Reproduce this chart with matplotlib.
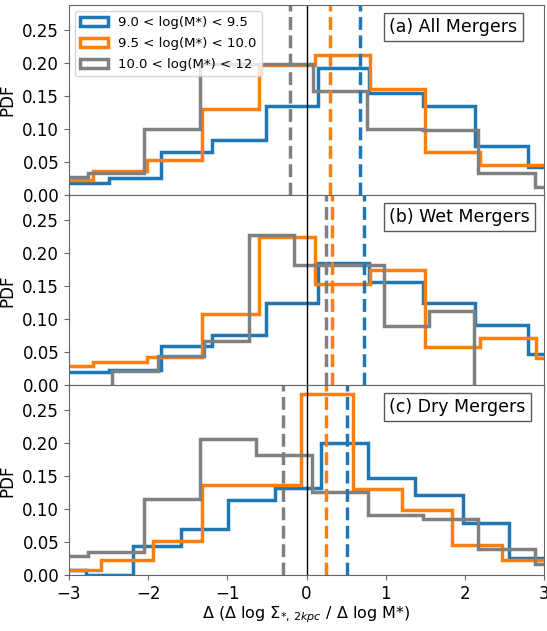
import matplotlib
matplotlib.use("Agg")
import matplotlib.pyplot as plt
from matplotlib.patches import Patch

labels = ["9.0 < log(M*) < 9.5", "9.5 < log(M*) < 10.0", "10.0 < log(M*) < 12"]
colors = ["#1f77b4", "#ff7f0e", "grey"]
panel_titles = ["(a) All Mergers", "(b) Wet Mergers", "(c) Dry Mergers"]

# (a) All mergers
a_blue_edges = [-3.16, -2.50, -1.84, -1.19, -0.51, 0.14, 0.79, 1.47, 2.13, 2.79, 3.45]
a_blue_vals = [0.018, 0.026, 0.066, 0.083, 0.135, 0.193, 0.155, 0.135, 0.075, 0.043]
a_orange_edges = [-3.40, -2.70, -2.02, -1.32, -0.60, 0.10, 0.80, 1.49, 2.19, 2.90, 3.60]
a_orange_vals = [0.023, 0.036, 0.053, 0.130, 0.197, 0.212, 0.161, 0.066, 0.046, 0.046]
a_grey_edges = [-3.47, -2.76, -2.05, -1.35, -0.62, 0.08, 0.76, 1.47, 2.16, 2.88, 3.60]
a_grey_vals = [0.028, 0.033, 0.101, 0.198, 0.198, 0.158, 0.100, 0.098, 0.034, 0.013]
a_medians = [0.68, 0.29, -0.21]

# (b) Wet mergers
b_blue_edges = [-3.16, -2.50, -1.84, -1.19, -0.51, 0.14, 0.79, 1.47, 2.13, 2.79, 3.45]
b_blue_vals = [0.020, 0.023, 0.060, 0.076, 0.124, 0.185, 0.156, 0.124, 0.091, 0.047]
b_orange_edges = [-3.40, -2.70, -2.02, -1.32, -0.60, 0.10, 0.80, 1.49, 2.19, 2.90, 3.60]
b_orange_vals = [0.030, 0.036, 0.043, 0.108, 0.225, 0.153, 0.174, 0.058, 0.072, 0.042]
b_grey_edges = [-2.45, -1.88, -1.30, -0.73, -0.16, 0.41, 0.98, 1.55, 2.11]
b_grey_vals = [0.022, 0.045, 0.067, 0.228, 0.183, 0.183, 0.090, 0.112]
b_medians = [0.72, 0.32, 0.245]

# (c) Dry mergers
c_blue_edges = [-3.37, -2.78, -2.19, -1.58, -0.99, -0.40, 0.18, 0.77, 1.37, 1.97, 2.56, 3.15]
c_blue_vals = [0.008, 0.0, 0.045, 0.070, 0.114, 0.132, 0.200, 0.148, 0.122, 0.080, 0.027]
c_orange_edges = [-3.23, -2.59, -1.94, -1.32, -0.70, -0.07, 0.59, 1.20, 1.84, 2.47, 3.10]
c_orange_vals = [0.008, 0.024, 0.052, 0.137, 0.137, 0.275, 0.131, 0.099, 0.046, 0.023]
c_grey_edges = [-3.47, -2.76, -2.05, -1.35, -0.64, 0.07, 0.77, 1.47, 2.16, 2.88, 3.60]
c_grey_vals = [0.029, 0.036, 0.116, 0.207, 0.183, 0.127, 0.092, 0.086, 0.040, 0.018]
c_medians = [0.51, 0.25, -0.30]

panels = [
    ([a_blue_edges, a_orange_edges, a_grey_edges], [a_blue_vals, a_orange_vals, a_grey_vals], a_medians),
    ([b_blue_edges, b_orange_edges, b_grey_edges], [b_blue_vals, b_orange_vals, b_grey_vals], b_medians),
    ([c_blue_edges, c_orange_edges, c_grey_edges], [c_blue_vals, c_orange_vals, c_grey_vals], c_medians),
]

fig, axes = plt.subplots(3, 1, figsize=(5.47, 6.31), dpi=100, sharex=True)
fig.subplots_adjust(left=0.126, right=0.995, bottom=0.088, top=0.992, hspace=0)

for i, (ax, (edges, vals, meds)) in enumerate(zip(axes, panels)):
    for e, v, c in zip(edges, vals, colors):
        ax.stairs(v, e, color=c, lw=2.5)
    for m, c in zip(meds, colors):
        ax.axvline(m, color=c, ls="--", lw=2.5)
    ax.axvline(0, color="black", lw=1)
    ax.set_xlim(-3, 3)
    ax.set_ylim(0, 0.288)
    ax.set_yticks([0, 0.05, 0.10, 0.15, 0.20, 0.25])
    ax.tick_params(labelsize=12, color="0.4")
    for s in ax.spines.values():
        s.set_color("0.4")
    ax.set_ylabel("PDF", fontsize=12)
    ax.text(0.674, 0.932, panel_titles[i], transform=ax.transAxes, ha="left", va="top",
            fontsize=12.5, bbox=dict(facecolor="white", edgecolor="0.35", boxstyle="square,pad=0.3"))
    if i == 0:
        handles = [Patch(facecolor="none", edgecolor=c, lw=2.5) for c in colors]
        ax.legend(handles, labels, loc="upper left", fontsize=9.5, handlelength=2.1,
                  labelspacing=0.6, borderaxespad=0.45)

axes[-1].set_xlabel(r"$\Delta$ ($\Delta$ log $\Sigma_{*,\,2kpc}$ / $\Delta$ log M*)", fontsize=11.5,
                    labelpad=1)

fig.savefig("out.png", dpi=100)
